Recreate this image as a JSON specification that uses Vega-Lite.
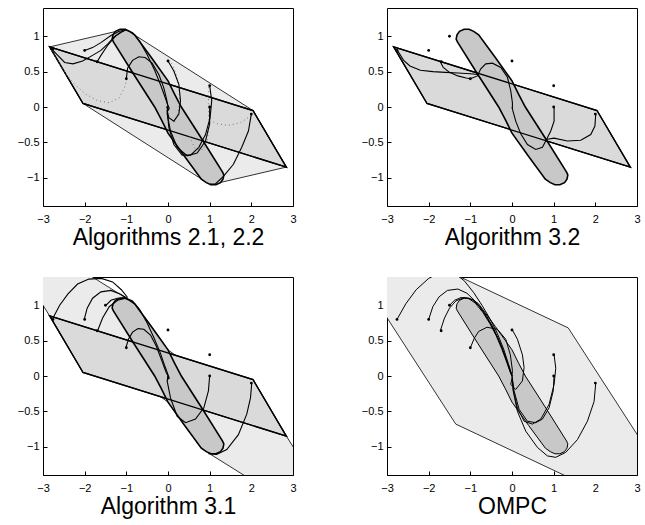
{
  "$schema": "https://vega.github.io/schema/vega-lite/v6.json",
  "padding": {"left": 7, "top": 7, "right": 0, "bottom": 0},
  "background": "white",
  "config": {
    "view": {"stroke": "black", "strokeWidth": 1},
    "axis": {"domain": false, "grid": false, "tickColor": "black", "tickSize": -4, "labelFont": "Liberation Sans", "labelFontSize": 11, "labelColor": "black", "titleFont": "Liberation Sans", "titleFontSize": 23, "titleFontWeight": "normal", "titleColor": "black", "format": "~g", "labelOverlap": false, "labelFlush": false},
    "axisX": {"labelPadding": 11, "titlePadding": 2},
    "axisY": {"labelPadding": 8, "minExtent": 35, "maxExtent": 35}
  },
  "datasets": {
    "para": [{"x": -2.84, "y": 0.85}, {"x": 2.04, "y": -0.05}, {"x": 2.84, "y": -0.85}, {"x": -2.04, "y": 0.05}],
    "band": [
      {"x": -1.34, "y": 0.96}, {"x": -1.32, "y": 1.02}, {"x": -1.26, "y": 1.07}, {"x": -1.15, "y": 1.1}, {"x": -1.03, "y": 1.1}, {"x": -0.92, "y": 1.07}, {"x": -0.8, "y": 1.02},
      {"x": -0.4, "y": 0.7}, {"x": 0, "y": 0.37}, {"x": 0.16, "y": 0.18}, {"x": 0.32, "y": 0}, {"x": 0.82, "y": -0.46}, {"x": 1.31, "y": -0.92},
      {"x": 1.34, "y": -0.96}, {"x": 1.32, "y": -1.02}, {"x": 1.26, "y": -1.07}, {"x": 1.15, "y": -1.1}, {"x": 1.03, "y": -1.1}, {"x": 0.92, "y": -1.07}, {"x": 0.8, "y": -1.02},
      {"x": 0.4, "y": -0.7}, {"x": 0, "y": -0.37}, {"x": -0.16, "y": -0.18}, {"x": -0.32, "y": 0}, {"x": -0.82, "y": 0.46}, {"x": -1.31, "y": 0.92}
    ],
    "hull1": [{"x": -2.84, "y": 0.85}, {"x": -1.02, "y": 1.1}, {"x": 2.04, "y": -0.05}, {"x": 2.84, "y": -0.85}, {"x": 1.02, "y": -1.1}, {"x": -2.04, "y": 0.05}],
    "light3": [
      {"x": -3.6, "y": 1.56}, {"x": -3.6, "y": 1.9}, {"x": -3.17, "y": 1.9}, {"x": -1.0, "y": 1.1}, {"x": -0.8, "y": 1.02}, {"x": -0.4, "y": 0.7}, {"x": 0, "y": 0.37}, {"x": 2.84, "y": -0.85},
      {"x": 3.6, "y": -1.56}, {"x": 3.6, "y": -1.9}, {"x": 3.17, "y": -1.9}, {"x": 1.0, "y": -1.1}, {"x": 0.8, "y": -1.02}, {"x": 0.4, "y": -0.7}, {"x": 0, "y": -0.37}, {"x": -2.84, "y": 0.85}
    ],
    "light4": [
      {"x": -3.6, "y": 1.9}, {"x": -3.04, "y": 1.9}, {"x": 1.35, "y": 0.68}, {"x": 3.6, "y": -1.37}, {"x": 3.6, "y": -1.9}, {"x": 3.04, "y": -1.9}, {"x": -1.35, "y": -0.68}, {"x": -3.6, "y": 1.37}
    ],
    "pts1": [{"x": -2.76, "y": 0.82}, {"x": -2.0, "y": 0.8}, {"x": -1.7, "y": 0.64}, {"x": -1.0, "y": 0.4}, {"x": 0.0, "y": 0.65}, {"x": 1.0, "y": 0.3}, {"x": 1.0, "y": 0.0}, {"x": 2.0, "y": -0.1}],
    "pts": [{"x": -2.76, "y": 0.8}, {"x": -2.0, "y": 0.8}, {"x": -1.7, "y": 0.64}, {"x": -1.5, "y": 1.0}, {"x": -1.0, "y": 0.4}, {"x": 0.0, "y": 0.65}, {"x": 1.0, "y": 0.3}, {"x": 1.0, "y": 0.0}, {"x": 2.0, "y": -0.1}],
    "t1": [
      {"id": "a", "x": -2.84, "y": 0.85}, {"id": "a", "x": -2.68, "y": 0.75}, {"id": "a", "x": -2.48, "y": 0.63}, {"id": "a", "x": -2.28, "y": 0.61}, {"id": "a", "x": -2.05, "y": 0.65}, {"id": "a", "x": -1.81, "y": 0.73}, {"id": "a", "x": -1.61, "y": 0.8}, {"id": "a", "x": -1.45, "y": 0.89}, {"id": "a", "x": -1.29, "y": 0.99}, {"id": "a", "x": -1.13, "y": 1.06}, {"id": "a", "x": -1.01, "y": 1.09},
      {"id": "b", "x": -2.0, "y": 0.8}, {"id": "b", "x": -1.81, "y": 0.84}, {"id": "b", "x": -1.61, "y": 0.91}, {"id": "b", "x": -1.37, "y": 1.01}, {"id": "b", "x": -1.17, "y": 1.07}, {"id": "b", "x": -1.04, "y": 1.09},
      {"id": "c", "x": -1.7, "y": 0.64}, {"id": "c", "x": -1.61, "y": 0.73}, {"id": "c", "x": -1.45, "y": 0.87}, {"id": "c", "x": -1.25, "y": 1.01}, {"id": "c", "x": -1.05, "y": 1.08},
      {"id": "d", "x": -1.01, "y": 1.09}, {"id": "d", "x": -0.85, "y": 1.05}, {"id": "d", "x": -0.68, "y": 0.93}, {"id": "d", "x": -0.5, "y": 0.74}, {"id": "d", "x": -0.32, "y": 0.52}, {"id": "d", "x": -0.17, "y": 0.3}, {"id": "d", "x": -0.06, "y": 0.12}, {"id": "d", "x": 0.0, "y": 0.02}, {"id": "d", "x": 0.03, "y": -0.02}, {"id": "d", "x": 0.0, "y": -0.05}, {"id": "d", "x": -0.03, "y": 0.0}, {"id": "d", "x": 0.0, "y": 0.0},
      {"id": "e", "x": -1.0, "y": 0.4}, {"id": "e", "x": -0.97, "y": 0.55}, {"id": "e", "x": -0.85, "y": 0.66}, {"id": "e", "x": -0.7, "y": 0.71}, {"id": "e", "x": -0.55, "y": 0.7}, {"id": "e", "x": -0.38, "y": 0.62}, {"id": "e", "x": -0.22, "y": 0.46}, {"id": "e", "x": -0.1, "y": 0.27}, {"id": "e", "x": -0.03, "y": 0.1}, {"id": "e", "x": 0.0, "y": 0.0},
      {"id": "f", "x": 0.0, "y": 0.65}, {"id": "f", "x": 0.14, "y": 0.51}, {"id": "f", "x": 0.26, "y": 0.32}, {"id": "f", "x": 0.3, "y": 0.09}, {"id": "f", "x": 0.26, "y": -0.1}, {"id": "f", "x": 0.14, "y": -0.2}, {"id": "f", "x": 0.02, "y": -0.15}, {"id": "f", "x": -0.02, "y": -0.05}, {"id": "f", "x": 0.0, "y": 0.0},
      {"id": "g", "x": 1.0, "y": 0.3}, {"id": "g", "x": 1.05, "y": 0.09}, {"id": "g", "x": 1.01, "y": -0.15}, {"id": "g", "x": 0.9, "y": -0.39}, {"id": "g", "x": 0.74, "y": -0.57}, {"id": "g", "x": 0.54, "y": -0.68}, {"id": "g", "x": 0.34, "y": -0.68}, {"id": "g", "x": 0.14, "y": -0.53}, {"id": "g", "x": 0.02, "y": -0.29}, {"id": "g", "x": -0.02, "y": -0.05},
      {"id": "h", "x": 1.0, "y": 0.0}, {"id": "h", "x": 1.0, "y": -0.24}, {"id": "h", "x": 0.9, "y": -0.48}, {"id": "h", "x": 0.7, "y": -0.65}, {"id": "h", "x": 0.46, "y": -0.69}, {"id": "h", "x": 0.22, "y": -0.57}, {"id": "h", "x": 0.06, "y": -0.34}, {"id": "h", "x": -0.02, "y": -0.1}, {"id": "h", "x": 0.0, "y": 0.0},
      {"id": "i", "x": 2.0, "y": -0.1}, {"id": "i", "x": 1.93, "y": -0.34}, {"id": "i", "x": 1.77, "y": -0.57}, {"id": "i", "x": 1.57, "y": -0.81}, {"id": "i", "x": 1.33, "y": -0.98}, {"id": "i", "x": 1.13, "y": -1.09}, {"id": "i", "x": 1.01, "y": -1.09}
    ],
    "d1": [
      {"id": "a", "x": -2.84, "y": 0.85}, {"id": "a", "x": -2.68, "y": 0.68}, {"id": "a", "x": -2.48, "y": 0.49}, {"id": "a", "x": -2.24, "y": 0.32}, {"id": "a", "x": -1.97, "y": 0.18}, {"id": "a", "x": -1.69, "y": 0.09}, {"id": "a", "x": -1.41, "y": 0.06}, {"id": "a", "x": -1.17, "y": 0.13}, {"id": "a", "x": -1.04, "y": 0.28}, {"id": "a", "x": -0.99, "y": 0.39},
      {"id": "b", "x": 0.02, "y": 0.66}, {"id": "b", "x": 0.11, "y": 0.6}, {"id": "b", "x": 0.2, "y": 0.45}, {"id": "b", "x": 0.26, "y": 0.3}, {"id": "b", "x": 0.28, "y": 0.1}, {"id": "b", "x": 0.24, "y": -0.1}, {"id": "b", "x": 0.15, "y": -0.22},
      {"id": "c", "x": 2.0, "y": -0.12}, {"id": "c", "x": 1.75, "y": -0.22}, {"id": "c", "x": 1.45, "y": -0.26}, {"id": "c", "x": 1.2, "y": -0.24}, {"id": "c", "x": 1.05, "y": -0.2},
      {"id": "d", "x": 0.98, "y": 0.28}, {"id": "d", "x": 0.97, "y": 0.05}, {"id": "d", "x": 0.98, "y": -0.25}, {"id": "d", "x": 0.95, "y": -0.45}, {"id": "d", "x": 0.85, "y": -0.6}, {"id": "d", "x": 0.66, "y": -0.6}, {"id": "d", "x": 0.52, "y": -0.42}
    ],
    "t2": [
      {"id": "a", "x": -2.76, "y": 0.81}, {"id": "a", "x": -2.6, "y": 0.66}, {"id": "a", "x": -2.45, "y": 0.58}, {"id": "a", "x": -2.2, "y": 0.52}, {"id": "a", "x": -1.9, "y": 0.5}, {"id": "a", "x": -1.6, "y": 0.49}, {"id": "a", "x": -1.3, "y": 0.48}, {"id": "a", "x": -1.0, "y": 0.47}, {"id": "a", "x": -0.82, "y": 0.46},
      {"id": "b", "x": -1.72, "y": 0.64}, {"id": "b", "x": -1.65, "y": 0.56}, {"id": "b", "x": -1.5, "y": 0.49}, {"id": "b", "x": -1.3, "y": 0.44}, {"id": "b", "x": -1.1, "y": 0.41}, {"id": "b", "x": -1.0, "y": 0.4},
      {"id": "c", "x": -1.0, "y": 0.4}, {"id": "c", "x": -0.83, "y": 0.44}, {"id": "c", "x": -0.75, "y": 0.54}, {"id": "c", "x": -0.63, "y": 0.61}, {"id": "c", "x": -0.47, "y": 0.62}, {"id": "c", "x": -0.27, "y": 0.56}, {"id": "c", "x": -0.11, "y": 0.42}, {"id": "c", "x": -0.03, "y": 0.23}, {"id": "c", "x": 0.01, "y": 0.06}, {"id": "c", "x": 0.01, "y": -0.03}, {"id": "c", "x": 0.0, "y": 0.0},
      {"id": "d", "x": 1.01, "y": 0.0}, {"id": "d", "x": 1.01, "y": -0.2}, {"id": "d", "x": 0.93, "y": -0.34}, {"id": "d", "x": 0.81, "y": -0.48}, {"id": "d", "x": 0.73, "y": -0.57}, {"id": "d", "x": 0.57, "y": -0.6}, {"id": "d", "x": 0.37, "y": -0.53}, {"id": "d", "x": 0.21, "y": -0.38}, {"id": "d", "x": 0.09, "y": -0.2}, {"id": "d", "x": 0.01, "y": -0.03},
      {"id": "e", "x": 2.01, "y": -0.1}, {"id": "e", "x": 1.99, "y": -0.27}, {"id": "e", "x": 1.89, "y": -0.39}, {"id": "e", "x": 1.65, "y": -0.47}, {"id": "e", "x": 1.33, "y": -0.48}, {"id": "e", "x": 1.01, "y": -0.44}, {"id": "e", "x": 0.81, "y": -0.46}
    ],
    "t3": [
      {"id": "a", "x": -2.76, "y": 0.82}, {"id": "a", "x": -2.6, "y": 1.0}, {"id": "a", "x": -2.4, "y": 1.16}, {"id": "a", "x": -2.17, "y": 1.3}, {"id": "a", "x": -1.9, "y": 1.37}, {"id": "a", "x": -1.6, "y": 1.38}, {"id": "a", "x": -1.33, "y": 1.33}, {"id": "a", "x": -1.12, "y": 1.22}, {"id": "a", "x": -0.97, "y": 1.11},
      {"id": "b", "x": -2.01, "y": 0.8}, {"id": "b", "x": -1.94, "y": 0.96}, {"id": "b", "x": -1.81, "y": 1.1}, {"id": "b", "x": -1.61, "y": 1.19}, {"id": "b", "x": -1.37, "y": 1.21}, {"id": "b", "x": -1.15, "y": 1.16}, {"id": "b", "x": -0.98, "y": 1.1},
      {"id": "c", "x": -1.69, "y": 0.64}, {"id": "c", "x": -1.57, "y": 0.82}, {"id": "c", "x": -1.41, "y": 0.98}, {"id": "c", "x": -1.21, "y": 1.07}, {"id": "c", "x": -1.01, "y": 1.1},
      {"id": "d", "x": -1.49, "y": 1.0}, {"id": "d", "x": -1.37, "y": 1.07}, {"id": "d", "x": -1.21, "y": 1.1}, {"id": "d", "x": -1.01, "y": 1.11},
      {"id": "m", "x": -1.0, "y": 1.1}, {"id": "m", "x": -0.85, "y": 1.06}, {"id": "m", "x": -0.68, "y": 0.94}, {"id": "m", "x": -0.5, "y": 0.75}, {"id": "m", "x": -0.33, "y": 0.53}, {"id": "m", "x": -0.18, "y": 0.32}, {"id": "m", "x": -0.07, "y": 0.13}, {"id": "m", "x": 0.0, "y": 0.02}, {"id": "m", "x": 0.03, "y": -0.03}, {"id": "m", "x": -0.01, "y": -0.05}, {"id": "m", "x": 0.0, "y": 0.0},
      {"id": "e", "x": -1.01, "y": 0.4}, {"id": "e", "x": -0.95, "y": 0.52}, {"id": "e", "x": -0.85, "y": 0.62}, {"id": "e", "x": -0.72, "y": 0.67}, {"id": "e", "x": -0.58, "y": 0.66}, {"id": "e", "x": -0.42, "y": 0.58}, {"id": "e", "x": -0.28, "y": 0.42}, {"id": "e", "x": -0.15, "y": 0.22}, {"id": "e", "x": -0.05, "y": 0.06}, {"id": "e", "x": 0.0, "y": 0.0},
      {"id": "f", "x": 1.0, "y": 0.0}, {"id": "f", "x": 0.97, "y": -0.21}, {"id": "f", "x": 0.86, "y": -0.45}, {"id": "f", "x": 0.66, "y": -0.61}, {"id": "f", "x": 0.42, "y": -0.66}, {"id": "f", "x": 0.22, "y": -0.57}, {"id": "f", "x": 0.06, "y": -0.31}, {"id": "f", "x": -0.02, "y": -0.07}, {"id": "f", "x": 0.0, "y": 0.0},
      {"id": "g", "x": 2.01, "y": -0.1}, {"id": "g", "x": 1.98, "y": -0.31}, {"id": "g", "x": 1.89, "y": -0.54}, {"id": "g", "x": 1.69, "y": -0.83}, {"id": "g", "x": 1.41, "y": -1.04}, {"id": "g", "x": 1.17, "y": -1.11}, {"id": "g", "x": 0.97, "y": -1.1}
    ],
    "t4": [
      {"id": "a", "x": -2.76, "y": 0.8}, {"id": "a", "x": -2.55, "y": 1.02}, {"id": "a", "x": -2.3, "y": 1.22}, {"id": "a", "x": -2.0, "y": 1.38}, {"id": "a", "x": -1.7, "y": 1.47}, {"id": "a", "x": -1.4, "y": 1.46}, {"id": "a", "x": -1.15, "y": 1.35}, {"id": "a", "x": -0.92, "y": 1.18}, {"id": "a", "x": -0.72, "y": 1.0}, {"id": "a", "x": -0.52, "y": 0.8}, {"id": "a", "x": -0.35, "y": 0.6}, {"id": "a", "x": -0.2, "y": 0.38}, {"id": "a", "x": -0.09, "y": 0.18}, {"id": "a", "x": -0.01, "y": 0.03}, {"id": "a", "x": 0.0, "y": 0.0},
      {"id": "b", "x": -2.0, "y": 0.8}, {"id": "b", "x": -1.9, "y": 0.98}, {"id": "b", "x": -1.75, "y": 1.12}, {"id": "b", "x": -1.55, "y": 1.21}, {"id": "b", "x": -1.3, "y": 1.23}, {"id": "b", "x": -1.08, "y": 1.17}, {"id": "b", "x": -0.87, "y": 1.05}, {"id": "b", "x": -0.68, "y": 0.9}, {"id": "b", "x": -0.5, "y": 0.72}, {"id": "b", "x": -0.35, "y": 0.55}, {"id": "b", "x": -0.21, "y": 0.36}, {"id": "b", "x": -0.1, "y": 0.17}, {"id": "b", "x": -0.02, "y": 0.03}, {"id": "b", "x": 0.0, "y": 0.0},
      {"id": "c", "x": -1.72, "y": 0.64}, {"id": "c", "x": -1.62, "y": 0.82}, {"id": "c", "x": -1.5, "y": 0.96}, {"id": "c", "x": -1.35, "y": 1.06}, {"id": "c", "x": -1.15, "y": 1.11}, {"id": "c", "x": -0.95, "y": 1.08}, {"id": "c", "x": -0.77, "y": 0.98}, {"id": "c", "x": -0.6, "y": 0.84}, {"id": "c", "x": -0.45, "y": 0.68}, {"id": "c", "x": -0.31, "y": 0.5}, {"id": "c", "x": -0.19, "y": 0.32}, {"id": "c", "x": -0.09, "y": 0.15}, {"id": "c", "x": -0.02, "y": 0.03}, {"id": "c", "x": 0.0, "y": 0.0},
      {"id": "d", "x": -1.5, "y": 1.0}, {"id": "d", "x": -1.38, "y": 1.07}, {"id": "d", "x": -1.22, "y": 1.11}, {"id": "d", "x": -1.05, "y": 1.1}, {"id": "d", "x": -0.88, "y": 1.03}, {"id": "d", "x": -0.7, "y": 0.9}, {"id": "d", "x": -0.53, "y": 0.74}, {"id": "d", "x": -0.38, "y": 0.57}, {"id": "d", "x": -0.25, "y": 0.39}, {"id": "d", "x": -0.13, "y": 0.2}, {"id": "d", "x": -0.04, "y": 0.05}, {"id": "d", "x": 0.0, "y": 0.0},
      {"id": "e", "x": -1.0, "y": 0.4}, {"id": "e", "x": -0.9, "y": 0.54}, {"id": "e", "x": -0.8, "y": 0.63}, {"id": "e", "x": -0.6, "y": 0.69}, {"id": "e", "x": -0.35, "y": 0.66}, {"id": "e", "x": -0.15, "y": 0.52}, {"id": "e", "x": -0.04, "y": 0.3}, {"id": "e", "x": 0.01, "y": 0.08}, {"id": "e", "x": 0.0, "y": 0.0},
      {"id": "f", "x": 0.0, "y": 0.66}, {"id": "f", "x": 0.13, "y": 0.52}, {"id": "f", "x": 0.25, "y": 0.3}, {"id": "f", "x": 0.29, "y": 0.12}, {"id": "f", "x": 0.25, "y": -0.07}, {"id": "f", "x": 0.09, "y": -0.19}, {"id": "f", "x": -0.03, "y": -0.12}, {"id": "f", "x": 0.0, "y": -0.03},
      {"id": "g", "x": 1.01, "y": 0.3}, {"id": "g", "x": 1.05, "y": 0.11}, {"id": "g", "x": 1.01, "y": -0.12}, {"id": "g", "x": 0.89, "y": -0.4}, {"id": "g", "x": 0.69, "y": -0.61}, {"id": "g", "x": 0.49, "y": -0.68}, {"id": "g", "x": 0.29, "y": -0.64}, {"id": "g", "x": 0.13, "y": -0.45}, {"id": "g", "x": 0.03, "y": -0.21}, {"id": "g", "x": 0.01, "y": -0.05},
      {"id": "h", "x": 1.01, "y": 0.01}, {"id": "h", "x": 0.99, "y": -0.21}, {"id": "h", "x": 0.89, "y": -0.45}, {"id": "h", "x": 0.73, "y": -0.61}, {"id": "h", "x": 0.57, "y": -0.66}, {"id": "h", "x": 0.37, "y": -0.64}, {"id": "h", "x": 0.17, "y": -0.47}, {"id": "h", "x": 0.05, "y": -0.21}, {"id": "h", "x": 0.0, "y": 0.0},
      {"id": "i", "x": 2.01, "y": -0.1}, {"id": "i", "x": 1.97, "y": -0.36}, {"id": "i", "x": 1.81, "y": -0.64}, {"id": "i", "x": 1.57, "y": -0.9}, {"id": "i", "x": 1.29, "y": -1.08}, {"id": "i", "x": 1.05, "y": -1.15}, {"id": "i", "x": 0.85, "y": -1.13}, {"id": "i", "x": 0.61, "y": -1.01}, {"id": "i", "x": 0.33, "y": -0.78}, {"id": "i", "x": 0.13, "y": -0.5}, {"id": "i", "x": 0.03, "y": -0.21}, {"id": "i", "x": 0.0, "y": 0.0}
    ]
  },
  "columns": 2,
  "spacing": {"row": 26, "column": 54},
  "concat": [
    {
      "width": 250, "height": 198,
      "encoding": {
        "x": {"field": "x", "type": "quantitative", "scale": {"domain": [-3, 3], "nice": false, "zero": false}, "axis": {"title": "Algorithms 2.1, 2.2", "values": [-3, -2, -1, 0, 1, 2, 3]}},
        "y": {"field": "y", "type": "quantitative", "scale": {"domain": [-1.4, 1.4], "nice": false, "zero": false}, "axis": {"title": null, "values": [-1, -0.5, 0, 0.5, 1]}},
        "order": {"value": null}
      },
      "layer": [
        {"data": {"name": "hull1"}, "mark": {"type": "line", "interpolate": "linear-closed", "fill": "#ebebeb", "stroke": "black", "strokeWidth": 0.8, "clip": true}},
        {"data": {"name": "para"}, "mark": {"type": "line", "interpolate": "linear-closed", "fill": "#dadada", "stroke": "black", "strokeWidth": 1.3, "clip": true}},
        {"data": {"name": "band"}, "mark": {"type": "line", "interpolate": "linear-closed", "fill": "#c8c8c8", "stroke": "black", "strokeWidth": 1.6, "clip": true}},
        {"data": {"name": "para"}, "mark": {"type": "line", "interpolate": "linear-closed", "stroke": "black", "strokeWidth": 1.3, "clip": true}},
        {"data": {"name": "d1"}, "mark": {"type": "line", "stroke": "#777777", "strokeWidth": 1, "strokeDash": [1, 3], "clip": true}, "encoding": {"detail": {"field": "id"}}},
        {"data": {"name": "t1"}, "mark": {"type": "line", "stroke": "black", "strokeWidth": 1.1, "clip": true}, "encoding": {"detail": {"field": "id"}}},
        {"data": {"name": "pts1"}, "mark": {"type": "circle", "size": 8, "color": "black", "opacity": 1}}
      ]
    },
    {
      "width": 250, "height": 198,
      "encoding": {
        "x": {"field": "x", "type": "quantitative", "scale": {"domain": [-3, 3], "nice": false, "zero": false}, "axis": {"title": "Algorithm 3.2", "values": [-3, -2, -1, 0, 1, 2, 3]}},
        "y": {"field": "y", "type": "quantitative", "scale": {"domain": [-1.4, 1.4], "nice": false, "zero": false}, "axis": {"title": null, "values": [-1, -0.5, 0, 0.5, 1]}},
        "order": {"value": null}
      },
      "layer": [
        {"data": {"name": "para"}, "mark": {"type": "line", "interpolate": "linear-closed", "fill": "#dadada", "stroke": "black", "strokeWidth": 1.3, "clip": true}},
        {"data": {"name": "band"}, "mark": {"type": "line", "interpolate": "linear-closed", "fill": "#c8c8c8", "stroke": "black", "strokeWidth": 1.6, "clip": true}},
        {"data": {"name": "para"}, "mark": {"type": "line", "interpolate": "linear-closed", "stroke": "black", "strokeWidth": 1.3, "clip": true}},
        {"data": {"name": "t2"}, "mark": {"type": "line", "stroke": "black", "strokeWidth": 1.1, "clip": true}, "encoding": {"detail": {"field": "id"}}},
        {"data": {"name": "pts"}, "mark": {"type": "circle", "size": 8, "color": "black", "opacity": 1}}
      ]
    },
    {
      "width": 250, "height": 198,
      "encoding": {
        "x": {"field": "x", "type": "quantitative", "scale": {"domain": [-3, 3], "nice": false, "zero": false}, "axis": {"title": "Algorithm 3.1", "values": [-3, -2, -1, 0, 1, 2, 3]}},
        "y": {"field": "y", "type": "quantitative", "scale": {"domain": [-1.4, 1.4], "nice": false, "zero": false}, "axis": {"title": null, "values": [-1, -0.5, 0, 0.5, 1]}},
        "order": {"value": null}
      },
      "layer": [
        {"data": {"name": "light3"}, "mark": {"type": "line", "interpolate": "linear-closed", "fill": "#ebebeb", "stroke": "black", "strokeWidth": 0.8, "clip": true}},
        {"data": {"name": "para"}, "mark": {"type": "line", "interpolate": "linear-closed", "fill": "#dadada", "stroke": "black", "strokeWidth": 1.3, "clip": true}},
        {"data": {"name": "band"}, "mark": {"type": "line", "interpolate": "linear-closed", "fill": "#c8c8c8", "stroke": "black", "strokeWidth": 1.6, "clip": true}},
        {"data": {"name": "para"}, "mark": {"type": "line", "interpolate": "linear-closed", "stroke": "black", "strokeWidth": 1.3, "clip": true}},
        {"data": {"name": "t3"}, "mark": {"type": "line", "stroke": "black", "strokeWidth": 1.1, "clip": true}, "encoding": {"detail": {"field": "id"}}},
        {"data": {"name": "pts"}, "mark": {"type": "circle", "size": 8, "color": "black", "opacity": 1}}
      ]
    },
    {
      "width": 250, "height": 198,
      "encoding": {
        "x": {"field": "x", "type": "quantitative", "scale": {"domain": [-3, 3], "nice": false, "zero": false}, "axis": {"title": "OMPC", "values": [-3, -2, -1, 0, 1, 2, 3]}},
        "y": {"field": "y", "type": "quantitative", "scale": {"domain": [-1.4, 1.4], "nice": false, "zero": false}, "axis": {"title": null, "values": [-1, -0.5, 0, 0.5, 1]}},
        "order": {"value": null}
      },
      "layer": [
        {"data": {"name": "light4"}, "mark": {"type": "line", "interpolate": "linear-closed", "fill": "#ebebeb", "stroke": "black", "strokeWidth": 0.8, "clip": true}},
        {"data": {"name": "band"}, "mark": {"type": "line", "interpolate": "linear-closed", "fill": "#c8c8c8", "stroke": "black", "strokeWidth": 1.0, "clip": true}},
        {"data": {"name": "t4"}, "mark": {"type": "line", "stroke": "black", "strokeWidth": 1.0, "clip": true}, "encoding": {"detail": {"field": "id"}}},
        {"data": {"name": "pts"}, "mark": {"type": "circle", "size": 8, "color": "black", "opacity": 1}}
      ]
    }
  ]
}
